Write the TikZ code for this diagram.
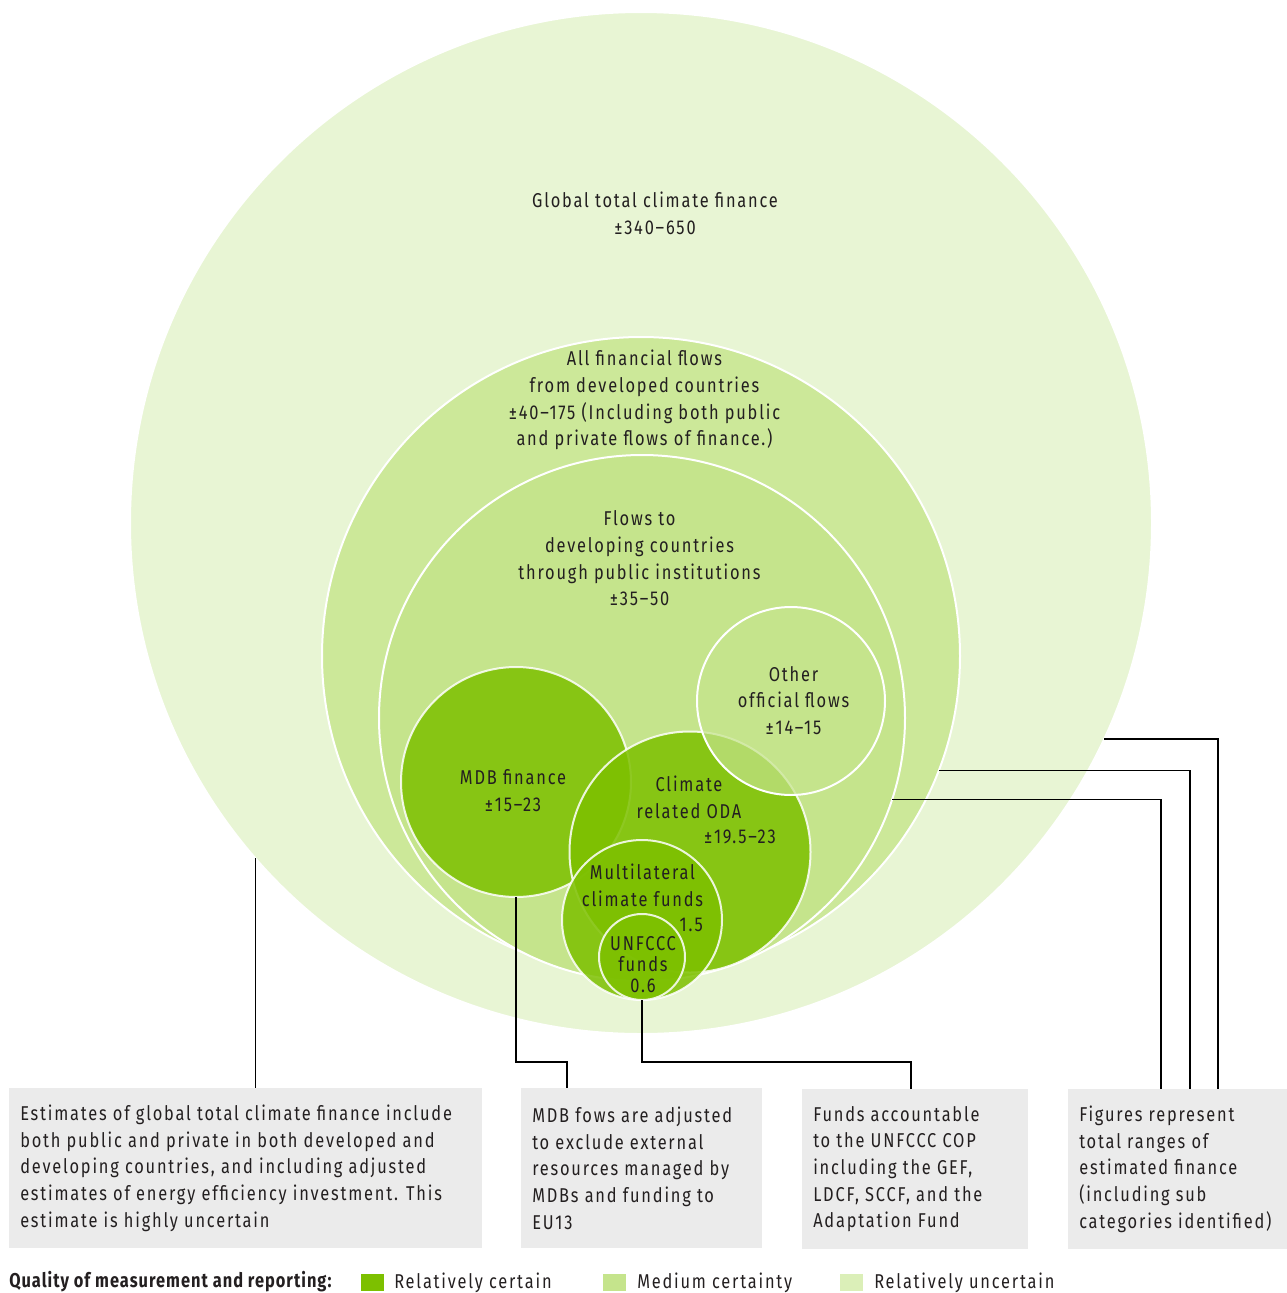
\documentclass[tikz,border=0pt]{standalone}
\usepackage{fontspec}
\setmainfont{Fira Sans}[FakeStretch=0.82,LetterSpace=9]
\usetikzlibrary{calc}
\definecolor{lightg}{HTML}{E8F5D4}
\definecolor{midg}{HTML}{CCE899}
\definecolor{midgb}{HTML}{C5E48C}
\definecolor{darkg}{HTML}{7DC000}
\definecolor{boxg}{HTML}{EBEBEB}
\definecolor{txt}{HTML}{231F20}
\definecolor{legu}{HTML}{DBEFB8}
\begin{document}
\begin{tikzpicture}[x=0.75pt,y=-0.75pt,
  ring/.style={circle,inner sep=0pt,outer sep=0pt,draw=white,line width=1.5pt},
  dark/.style={ring,fill=darkg,fill opacity=0.85,draw opacity=0.85},
  lbl/.style={align=center,text=txt,font=\fontsize{15pt}{20pt}\selectfont,inner sep=0pt},
  notebox/.style={anchor=north west,fill=boxg,inner sep=0pt,minimum height=120pt},
  notetext/.style={anchor=west,align=left,text=txt,font=\fontsize{15pt}{20pt}\selectfont,inner sep=0pt},
  conn/.style={draw=black,line width=0.9pt},
  swatch/.style={anchor=west,minimum width=17.25pt,minimum height=12.75pt,inner sep=0pt},
  legtext/.style={anchor=west,text=txt,font=\fontsize{15pt}{20pt}\selectfont,inner sep=0pt}
]
\useasboundingbox (0,0) rectangle (1287,1293);

% circles
\node[ring,fill=lightg,minimum size=766.5pt] (big) at (641,523) {};
\node[ring,fill=midg,minimum size=478.5pt] (all) at (641,656) {};
\node[ring,fill=midgb,minimum size=394.5pt] (dev) at (642,718) {};
\node[dark,minimum size=172.5pt] (mdb) at (516,782) {};
\node[dark,minimum size=180.75pt] (oda) at (690,852) {};
\node[ring,fill=midgb,fill opacity=0.7,minimum size=141pt] (oof) at (791,701) {};
\node[dark,minimum size=120pt] (mcf) at (642,920) {};
\node[dark,minimum size=64.5pt] (unf) at (642,957) {};

% circle labels
\node[lbl] (tbig) at (655,213) {Global total climate finance\\±340–650};
\node[lbl] (tall) at (644.5,400) {All financial flows\\from developed countries\\±40–175 (Including both public\\and private flows of finance.)};
\node[lbl] (tdev) at (639.5,558.5) {Flows to\\developing countries\\through public institutions\\±35–50};
\node[lbl] (toof) at (793.5,700.5) {Other\\official flows\\±14–15};
\node[lbl] (tmdb) at (513,790.5) {MDB finance\\±15–23};
\node[lbl] (toda) at (689,797.5) {Climate\\related ODA};
\node[lbl,anchor=east] (toda2) at (776,837) {±19.5–23};
\node[lbl] (tmcf) at (642.5,885.5) {Multilateral\\climate funds};
\node[lbl,anchor=east] (tmcf2) at (703,925) {1.5};
\node[lbl,font=\fontsize{15pt}{16pt}\selectfont] (tunf) at (643,964.5) {UNFCCC\\funds\\0.6};

% note boxes
\node[notebox,minimum width=354.75pt] (b1) at (9,1088) {};
\node[notebox,minimum width=180.75pt] (b2) at (521,1088) {};
\node[notebox,minimum width=169.5pt] (b3) at (802,1089) {};
\node[notebox,minimum width=164.25pt] (b4) at (1068,1089) {};
\node[notetext] (n1) at ($(b1.west)+(11,0)$) {Estimates of global total climate finance include\\both public and private in both developed and\\developing countries, and including adjusted\\estimates of energy efficiency investment. This\\estimate is highly uncertain};
\node[notetext] (n2) at ($(b2.west)+(11,0)$) {MDB fows are adjusted\\to exclude external\\resources managed by\\MDBs and funding to\\EU13};
\node[notetext] (n3) at ($(b3.west)+(11,0)$) {Funds accountable\\to the UNFCCC COP\\including the GEF,\\LDCF, SCCF, and the\\Adaptation Fund};
\node[notetext] (n4) at ($(b4.west)+(11,0)$) {Figures represent\\total ranges of\\estimated finance\\(including sub\\categories identified)};

% connectors
\coordinate (k2) at (567,1062);
\coordinate (k3) at (911,1062);
\coordinate (r1) at (1218,1089);
\coordinate (r2) at (1190,1089);
\coordinate (r3) at (1161,1089);
\draw[conn] (big.221) -- (big.221 |- b1.north);
\draw[conn] (mdb.south) |- (k2) -- (k2 |- b2.north);
\draw[conn] (unf.south) |- (k3) -- (k3 |- b3.north);
\draw[conn] (big.-25.6) -| (r1);
\draw[conn] (all.-21.2) -| (r2);
\draw[conn] (dev.-18.2) -| (r3);

% legend
\node[legtext,font=\bfseries\fontsize{15pt}{20pt}\selectfont\addfontfeatures{LetterSpace=5}] (lq) at (9,1282) {Quality of measurement and reporting:};
\node[swatch,fill=darkg] (s1) at (361,1282) {};
\node[legtext] (l1) at (394,1283) {Relatively certain};
\node[swatch,fill=midgb] (s2) at (603,1282) {};
\node[legtext] (l2) at (637,1283) {Medium certainty};
\node[swatch,fill=legu] (s3) at (840,1282) {};
\node[legtext] (l3) at (874,1283) {Relatively uncertain};
\end{tikzpicture}
\end{document}
